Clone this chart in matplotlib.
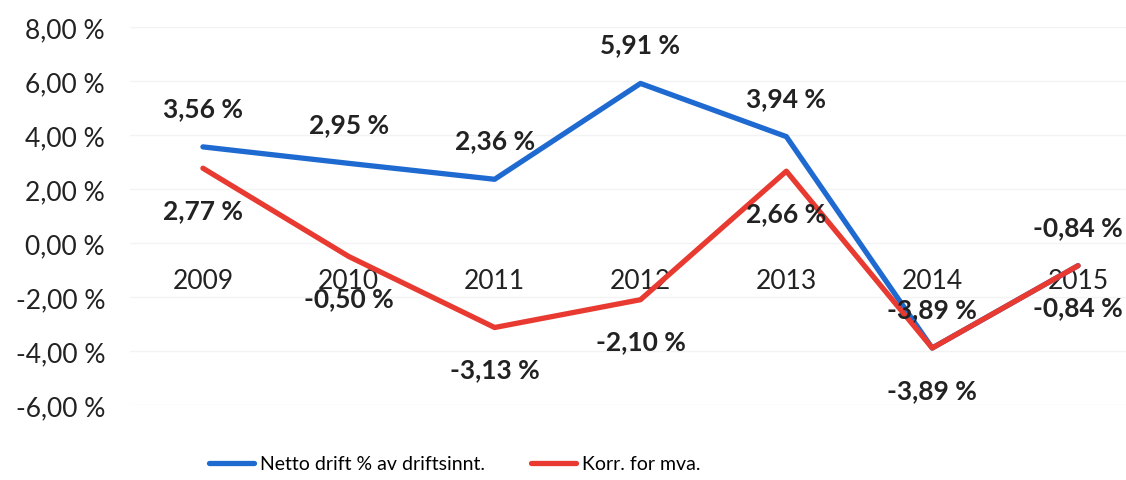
import matplotlib
matplotlib.use('Agg')
from matplotlib import pyplot as plt

years = ['2009', '2010', '2011', '2012', '2013', '2014', '2015']
netto = [3.56, 2.95, 2.36, 5.91, 3.94, -3.89, -0.84]
korr = [2.77, -0.50, -3.13, -2.10, 2.66, -3.89, -0.84]
yticks = [-6, -4, -2, 0, 2, 4, 6, 8]

blue = '#1f6ad0'
red = '#e83a30'
txt = '#222222'

plt.rcParams['font.family'] = ['Lato', 'DejaVu Sans']


def fmt(v):
    # norsk format med komma
    return f'{v:.2f} %'.replace('.', ',')


fig = plt.figure(figsize=(11.26, 4.81), dpi=100)
ax = fig.add_axes([130 / 1126, 1 - 406 / 481, 1 - 130 / 1126, (406 - 28) / 481])
ax.spines['bottom'].set_position(('data', 0))

x = list(range(len(years)))
ax.plot(x, netto, color=blue, lw=3.8, solid_capstyle='round', label='Netto drift % av driftsinnt.', zorder=3)
ax.plot(x, korr, color=red, lw=3.8, solid_capstyle='round', label='Korr. for mva.', zorder=4)

for i, v in enumerate(netto):
    ax.annotate(fmt(v), (i, v), xytext=(0, 28), textcoords='offset points',
                ha='center', va='center', fontsize=19, fontweight='bold', color=txt, zorder=5)
for i, v in enumerate(korr):
    ax.annotate(fmt(v), (i, v), xytext=(0, -30), textcoords='offset points',
                ha='center', va='center', fontsize=19, fontweight='bold', color=txt, zorder=5)

ax.set_xlim(-0.5, 6.5 - 25 / 146)
ax.set_ylim(-6, 8)
ax.set_yticks(yticks)
ax.set_yticklabels([fmt(t) for t in yticks], fontsize=19, color=txt)
ax.set_xticks(x)
ax.set_xticklabels(years, fontsize=19, color=txt)
ax.tick_params(axis='both', length=0)
ax.tick_params(axis='y', pad=18)
ax.tick_params(axis='x', pad=18)
for s in ax.spines.values():
    s.set_visible(False)
ax.grid(axis='y', color='#f3f3f3', lw=1)
ax.set_axisbelow(True)

fig.legend(loc='center', bbox_to_anchor=(0.404, 1 - 465 / 481), ncol=2, frameon=False,
           fontsize=14, handlelength=2.3, handletextpad=0.3, columnspacing=2.4)

fig.savefig('out.png', dpi=100)
